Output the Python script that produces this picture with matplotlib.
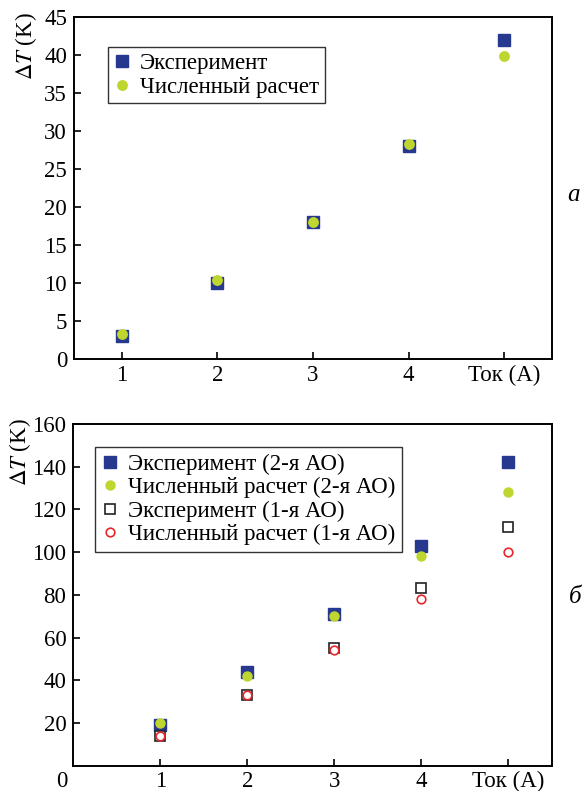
import matplotlib
matplotlib.use("Agg")
import matplotlib.pyplot as plt

plt.rcParams['font.family'] = ['Liberation Serif', 'DejaVu Serif']
plt.rcParams['mathtext.fontset'] = 'stix'

# Panel a data
current_a = [1, 2, 3, 4, 5]
exp_a = [3.0, 10.0, 18.0, 28.0, 42.0]
calc_a = [3.3, 10.4, 18.0, 28.3, 39.9]
xtick_labels = ['1', '2', '3', '4', 'Ток (А)']

# Panel b data
current_b = [1, 2, 3, 4, 5]
exp2_b = [19, 44, 71, 103, 142]
calc2_b = [20, 42, 70, 98, 128]
exp1_b = [14, 33, 55, 83, 112]
calc1_b = [14, 33, 54, 78, 100]

blue = '#26398f'
green = '#bfd62f'
red = '#e8262b'
FS = 16.5

fig = plt.figure(figsize=(5.82, 7.91), dpi=100)
W, H = 582, 791

def add_ax(l, t, r, b):
    return fig.add_axes([l / W, 1 - b / H, (r - l) / W, (b - t) / H])

ax1 = add_ax(74, 17, 552, 359)
ax2 = add_ax(73.3, 424, 552, 765.7)

for ax in (ax1, ax2):
    for s in ax.spines.values():
        s.set_linewidth(1.4)
    ax.tick_params(direction='in', length=5, width=1.2, labelsize=FS)
    ax.tick_params(axis='x', pad=4)
    ax.tick_params(axis='y', pad=5)

# Panel a
ax1.plot(current_a, exp_a, 's', color=blue, markersize=8.3, linestyle='none', label='Эксперимент')
ax1.plot(current_a, calc_a, 'o', color=green, markersize=6.8, linestyle='none', label='Численный расчет')
ax1.set_xlim(0.5, 5.5)
ax1.set_ylim(0, 45)
ax1.set_yticks(range(0, 46, 5))
ax1.set_xticks(current_a)
ax1.set_xticklabels(xtick_labels)
ax1.set_ylabel(r'$\Delta T$ (K)', fontsize=FS)
ax1.yaxis.set_label_coords(-0.074, 0.915)
leg1 = ax1.legend(loc='upper left', bbox_to_anchor=(0.071, 0.912), borderaxespad=0,
                  fontsize=FS, frameon=True, fancybox=False, edgecolor='black',
                  handlelength=0.7, handletextpad=0.45, borderpad=0.25, labelspacing=0.12,
                  markerscale=1.0)
leg1.get_frame().set_linewidth(1.0)

# Panel b
ax2.plot(current_b, exp2_b, 's', color=blue, markersize=8.3, linestyle='none', label='Эксперимент (2-я АО)')
ax2.plot(current_b, calc2_b, 'o', color=green, markersize=6.5, linestyle='none', label='Численный расчет (2-я АО)')
ax2.plot(current_b, exp1_b, 's', markerfacecolor='white', markeredgecolor='#222222', markeredgewidth=1.2,
         markersize=7.5, linestyle='none', label='Эксперимент (1-я АО)')
ax2.plot(current_b, calc1_b, 'o', markerfacecolor='white', markeredgecolor=red, markeredgewidth=1.2,
         markersize=6.2, linestyle='none', label='Численный расчет (1-я АО)')
ax2.set_xlim(0, 5.5)
ax2.set_ylim(0, 160)
ax2.set_yticks(range(20, 161, 20))
ax2.set_xticks(current_b)
ax2.set_xticklabels(xtick_labels)
ax2.annotate('0', xy=(0, 0), xycoords='axes fraction', xytext=(-11, -5),
             textcoords='offset pixels', ha='center', va='top', fontsize=FS)
ax2.set_ylabel(r'$\Delta T$ (K)', fontsize=FS)
ax2.yaxis.set_label_coords(-0.085, 0.918)
leg2 = ax2.legend(loc='upper left', bbox_to_anchor=(0.045, 0.933), borderaxespad=0,
                  fontsize=FS, frameon=True, fancybox=False, edgecolor='black',
                  handlelength=0.7, handletextpad=0.45, borderpad=0.3, labelspacing=0.1)
leg2.get_frame().set_linewidth(1.0)

fig.text(574 / W, 1 - 195 / H, 'а', fontsize=18, style='italic', ha='center', va='center')
fig.text(575 / W, 1 - 597 / H, 'б', fontsize=18, style='italic', ha='center', va='center')

fig.savefig('out.png', dpi=100)
